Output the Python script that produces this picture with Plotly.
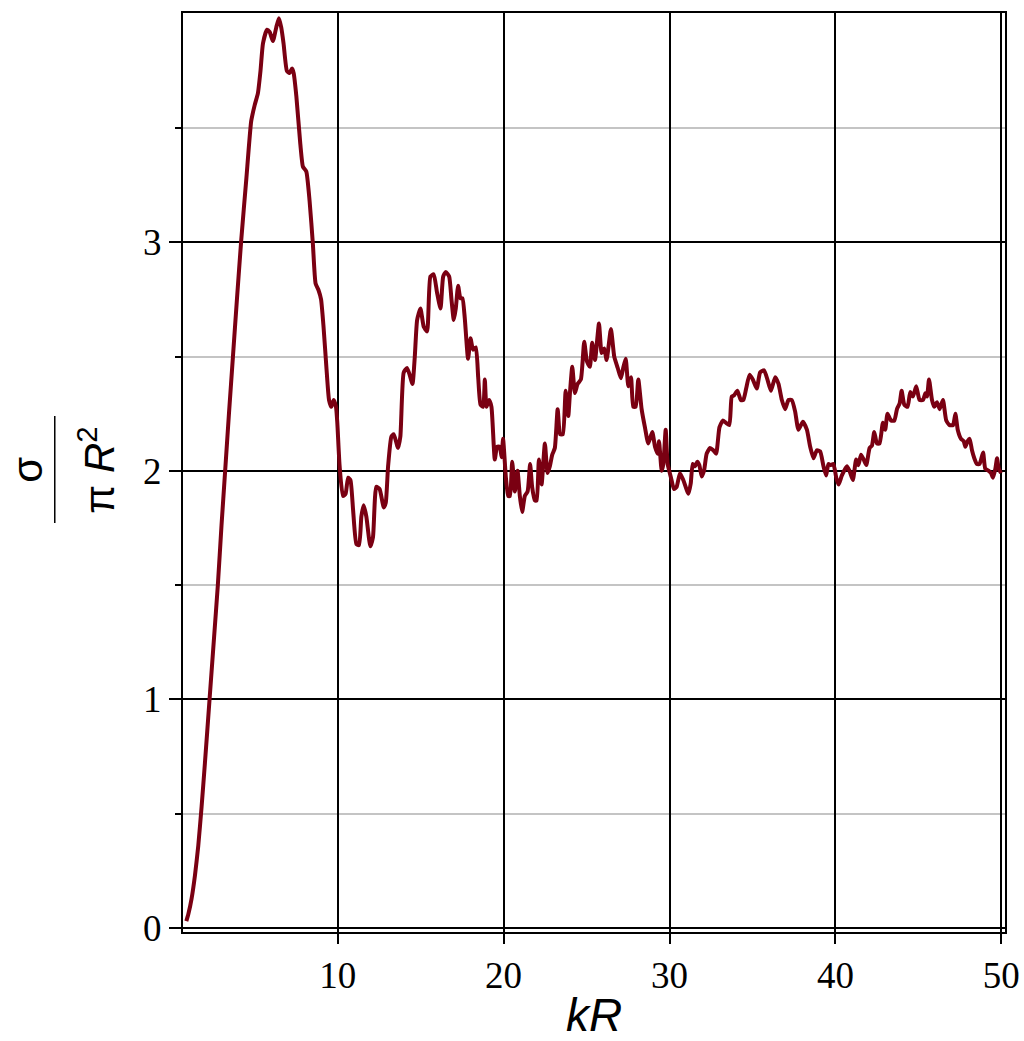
import plotly.graph_objects as go

# --- data (kR, sigma/(pi R^2)) ---
kr_lobe1 = [0.88, 1.0, 1.2, 1.4, 1.6, 1.8, 2.0, 2.28, 2.53, 2.78, 3.0, 3.22, 3.45, 3.69, 3.93,
            4.19, 4.5, 4.79, 5.0, 5.19, 5.35, 5.5, 5.74, 5.9, 6.1, 6.3, 6.46, 6.6, 6.74, 6.94,
            7.1, 7.25, 7.35, 7.51, 7.75, 7.91, 8.11, 8.31, 8.51, 8.67, 8.85, 9.0, 9.15, 9.32,
            9.48, 9.62, 9.76, 9.9, 9.98]
q_lobe1 = [0.03, 0.06, 0.13, 0.23, 0.36, 0.53, 0.72, 1.00, 1.25, 1.50, 1.76, 2.00, 2.25, 2.50, 2.75,
           3.01, 3.28, 3.53, 3.60, 3.65, 3.75, 3.87, 3.93, 3.92, 3.88, 3.94, 3.98, 3.94, 3.87, 3.75,
           3.74, 3.76, 3.74, 3.64, 3.43, 3.33, 3.31, 3.18, 2.99, 2.82, 2.79, 2.75, 2.63, 2.455,
           2.31, 2.28, 2.31, 2.28, 2.21]

kr_lobe2 = [10.12, 10.32, 10.48, 10.63, 10.77, 10.93, 11.13, 11.29, 11.43, 11.57, 11.73, 11.97, 12.13,
            12.33, 12.53, 12.78, 12.9, 13.04, 13.24, 13.38, 13.64, 13.78, 13.98, 14.18, 14.34, 14.51,
            14.65, 14.79, 14.99, 15.19, 15.39, 15.59, 15.79, 15.99, 16.2, 16.36, 16.52, 16.72, 16.86,
            17.0, 17.12, 17.26, 17.4, 17.52, 17.66, 17.86, 18.01, 18.16, 18.33, 18.47, 18.61, 18.77,
            18.87, 18.97, 19.13, 19.27, 19.47, 19.61, 19.77, 19.88, 19.97, 20.14, 20.28, 20.38]
q_lobe2 = [2.02, 1.89, 1.90, 1.97, 1.96, 1.83, 1.68, 1.675, 1.80, 1.85, 1.80, 1.67, 1.71,
           1.93, 1.92, 1.84, 1.86, 2.02, 2.15, 2.16, 2.10, 2.15, 2.43, 2.45, 2.42, 2.38,
           2.50, 2.66, 2.71, 2.63, 2.61, 2.85, 2.86, 2.78, 2.71, 2.85, 2.87, 2.85, 2.75,
           2.66, 2.71, 2.81, 2.755, 2.755, 2.67, 2.49, 2.58, 2.53, 2.54, 2.41, 2.29, 2.28,
           2.40, 2.28, 2.31, 2.28, 2.05, 2.105, 2.105, 2.06, 2.14, 1.97, 1.89, 1.89]

kr_lobe3 = [20.52, 20.68, 20.84, 20.98, 21.12, 21.28, 21.45, 21.6, 21.72, 21.89, 21.99, 22.13, 22.29,
            22.49, 22.65, 22.79, 22.93, 23.09, 23.26, 23.41, 23.57, 23.74, 23.9, 24.0, 24.14, 24.3,
            24.46, 24.66, 24.86, 25.02, 25.2, 25.34, 25.51, 25.75, 25.91, 26.07, 26.21, 26.47, 26.67,
            26.88, 27.07, 27.21, 27.36, 27.52, 27.68, 27.82, 27.96, 28.12, 28.32, 28.52, 28.72, 28.96,
            29.13, 29.29, 29.37, 29.53, 29.63, 29.77, 29.89, 30.09, 30.27]
q_lobe3 = [2.04, 1.91, 2.00, 1.89, 1.82, 1.89, 1.91, 2.03, 1.93, 1.87, 1.87, 2.05, 1.94,
           2.12, 1.99, 2.02, 2.07, 2.10, 2.27, 2.16, 2.16, 2.35, 2.24, 2.34, 2.455, 2.34,
           2.38, 2.40, 2.565, 2.48, 2.455, 2.56, 2.485, 2.645, 2.515, 2.535, 2.485, 2.62, 2.50,
           2.45, 2.405, 2.45, 2.49, 2.37, 2.41, 2.28, 2.28, 2.40, 2.27, 2.19, 2.12, 2.17,
           2.105, 2.075, 2.13, 2.00, 2.03, 2.18, 2.03, 1.97, 1.92]

kr_lobe4 = [30.43, 30.63, 30.83, 31.14, 31.28, 31.4, 31.54, 31.68, 31.8, 31.94, 32.08, 32.24, 32.44,
            32.64, 32.81, 33.01, 33.21, 33.41, 33.61, 33.75, 33.89, 34.09, 34.3, 34.45, 34.62, 34.82,
            35.02, 35.26, 35.46, 35.7, 35.9, 36.11, 36.37, 36.57, 36.77, 36.97, 37.17, 37.37, 37.57,
            37.77, 38.04, 38.28, 38.48, 38.68, 38.88, 39.08, 39.28, 39.44, 39.58, 39.72, 39.88]
q_lobe4 = [1.93, 1.99, 1.96, 1.90, 1.945, 2.03, 2.02, 2.04, 2.025, 1.975, 2.00, 2.075, 2.10,
           2.09, 2.075, 2.19, 2.22, 2.21, 2.20, 2.325, 2.33, 2.35, 2.31, 2.31, 2.36, 2.42,
           2.40, 2.36, 2.43, 2.44, 2.40, 2.35, 2.41, 2.38, 2.31, 2.27, 2.31, 2.31, 2.26,
           2.18, 2.215, 2.18, 2.105, 2.055, 2.09, 2.085, 2.02, 1.98, 2.03, 2.025, 2.03]

kr_lobe5 = [40.05, 40.19, 40.39, 40.69, 40.85, 41.05, 41.25, 41.39, 41.54, 41.7, 41.86, 42.06, 42.2,
            42.34, 42.5, 42.66, 42.86, 43.0, 43.14, 43.35, 43.55, 43.71, 43.87, 43.99, 44.15, 44.35,
            44.51, 44.67, 44.87, 45.07, 45.28, 45.42, 45.52, 45.64, 45.82, 45.96, 46.12, 46.28, 46.48,
            46.68, 46.88, 47.09, 47.23, 47.37, 47.57, 47.73, 47.83, 47.97, 48.09, 48.23, 48.37, 48.53,
            48.69, 48.9, 49.03, 49.24, 49.38, 49.5, 49.64, 49.74, 49.84, 49.98]
q_lobe5 = [1.97, 1.94, 1.98, 2.02, 2.00, 1.96, 2.05, 2.025, 2.07, 2.05, 2.025, 2.10, 2.11,
           2.17, 2.12, 2.12, 2.21, 2.18, 2.25, 2.22, 2.22, 2.27, 2.295, 2.35, 2.29, 2.28,
           2.345, 2.325, 2.37, 2.31, 2.31, 2.34, 2.325, 2.40, 2.31, 2.28, 2.30, 2.27, 2.31,
           2.22, 2.20, 2.20, 2.25, 2.18, 2.14, 2.13, 2.105, 2.13, 2.14, 2.09, 2.055, 2.03,
           2.03, 2.08, 2.01, 2.00, 1.99, 1.97, 2.01, 2.055, 2.01, 1.99]

x_ticks = [10, 20, 30, 40, 50]
x_tick_labels = ["10", "20", "30", "40", "50"]
y_ticks = [0, 1, 2, 3]
y_tick_labels = ["0", "1", "2", "3"]
y_minor = [0.5, 1.5, 2.5, 3.5]

kr = kr_lobe1 + kr_lobe2 + kr_lobe3 + kr_lobe4 + kr_lobe5
q = q_lobe1 + q_lobe2 + q_lobe3 + q_lobe4 + q_lobe5

fig = go.Figure()
fig.add_trace(go.Scatter(
    x=kr, y=q, mode="lines",
    line=dict(color="#7a0012", width=4, shape="spline", smoothing=0.5),
    showlegend=False, hoverinfo="skip",
))

tick_font = dict(family="Liberation Serif, Times New Roman, serif", size=37, color="black")
label_font = dict(family="Liberation Sans, Arial, sans-serif", size=46, color="black")
ylabel_font = dict(family="Liberation Sans, Arial, sans-serif", size=42, color="black")

fig.update_layout(
    width=1024, height=1041, autosize=False,
    margin=dict(l=183, r=19, t=13, b=109, autoexpand=False),
    paper_bgcolor="white", plot_bgcolor="white",
    xaxis=dict(
        range=[0.68, 50.22], automargin=False,
        tickmode="array", tickvals=x_ticks, ticktext=x_tick_labels,
        ticks="outside", ticklen=10, tickwidth=2, tickcolor="black",
        showgrid=True, gridcolor="black", gridwidth=2,
        zeroline=False,
        showline=True, linecolor="black", linewidth=2, mirror=True,
        tickfont=tick_font,
    ),
    yaxis=dict(
        range=[-0.0175, 4.003], automargin=False,
        tickmode="array", tickvals=y_ticks, ticktext=y_tick_labels,
        ticks="outside", ticklen=12, tickwidth=2, tickcolor="black",
        showgrid=True, gridcolor="black", gridwidth=2,
        zeroline=False,
        showline=True, linecolor="black", linewidth=2, mirror=True,
        tickfont=tick_font,
        minor=dict(tickmode="array", tickvals=y_minor, ticks="outside", ticklen=6,
                   tickwidth=2, tickcolor="black",
                   showgrid=True, gridcolor="#c4c4c4", gridwidth=2),
    ),
    annotations=[
        dict(text="<i>kR</i>", xref="paper", yref="paper", x=0.5, y=-0.09,
             xanchor="center", yanchor="middle", showarrow=False, font=label_font),
        dict(text="σ", xref="paper", yref="paper", x=-0.19, y=0.5027,
             xanchor="center", yanchor="middle", showarrow=False, textangle=-90,
             font=ylabel_font),
        dict(text="π <i>R</i><sup>2</sup>", xref="paper", yref="paper", x=-0.105, y=0.5027,
             xanchor="center", yanchor="middle", showarrow=False, textangle=-90,
             font=ylabel_font),
    ],
    shapes=[
        dict(type="line", xref="paper", yref="paper", x0=-0.156, x1=-0.156,
             y0=0.445, y1=0.5615, line=dict(color="black", width=1.5)),
    ],
)

# remove the default 8px page margin so the 1024x1041 figure fills the window exactly
fig.write_html("out.html",
               config={"displayModeBar": False, "responsive": False},
               post_script="document.body.style.margin='0';document.body.style.overflow='hidden';")
